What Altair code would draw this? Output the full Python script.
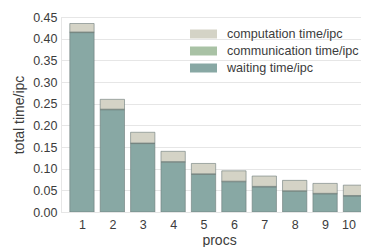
import altair as alt
import pandas as pd

procs = [1, 2, 3, 4, 5, 6, 7, 8, 9, 10]
waiting = [0.414, 0.236, 0.158, 0.115, 0.087, 0.070, 0.058, 0.048, 0.042, 0.037]
communication = [0.0015, 0.0014, 0.0013, 0.0013, 0.0012, 0.0012, 0.0012, 0.0011, 0.0011, 0.0011]
computation = [0.0195, 0.0226, 0.0247, 0.0237, 0.0238, 0.0238, 0.0238, 0.0239, 0.0229, 0.0239]

series = ["computation time/ipc", "communication time/ipc", "waiting time/ipc"]
colors = ["#d4d3c6", "#a9c2a5", "#88a8a4"]
stack_rank = {"waiting time/ipc": 0, "communication time/ipc": 1, "computation time/ipc": 2}

rows = []
for i, p in enumerate(procs):
    for name, vals in (("waiting time/ipc", waiting),
                       ("communication time/ipc", communication),
                       ("computation time/ipc", computation)):
        rows.append({"procs": p, "series": name, "value": vals[i], "rank": stack_rank[name]})
df = pd.DataFrame(rows)

font = "Liberation Sans"

chart = alt.Chart(df).transform_calculate(
    x0="datum.procs - 0.4", x1="datum.procs + 0.4"
).mark_bar(clip=True, stroke="#6b7a78", strokeWidth=0.6).encode(
    x=alt.X("x0:Q", scale=alt.Scale(domain=[0.475, 10.017], nice=False, zero=False),
            axis=alt.Axis(values=procs, title="procs", grid=False, ticks=False, domain=False,
                          labelFontSize=12.5, labelColor="#3c3c3c", labelPadding=6,
                          labelFlush=10,
                          titleFontSize=14, titleFontWeight="normal", titleColor="#3c3c3c",
                          titlePadding=3, titleX=158, labelFont=font, titleFont=font)),
    x2="x1:Q",
    y=alt.Y("sum(value):Q", stack="zero",
            scale=alt.Scale(domain=[0, 0.45], nice=False),
            axis=alt.Axis(values=[0, 0.05, 0.1, 0.15, 0.2, 0.25, 0.3, 0.35, 0.4, 0.45],
                          format=".2f", title="total time/ipc", ticks=False,
                          domain=True, domainColor="#e6e6e6", domainWidth=1,
                          gridColor="#e6e6e6", gridWidth=1,
                          labelFontSize=12.5, labelColor="#3c3c3c", labelPadding=4,
                          titleFontSize=14, titleFontWeight="normal", titleColor="#3c3c3c",
                          titlePadding=6, labelFont=font, titleFont=font)),
    color=alt.Color("series:N", scale=alt.Scale(domain=series, range=colors),
                    legend=alt.Legend(title=None, orient="none", legendX=133.5, legendY=8,
                                      symbolType="M-1.5,-0.5H1.5V0.5H-1.5Z", symbolSize=324,
                                      symbolStrokeWidth=0, symbolOpacity=1,
                                      labelFontSize=12.6, labelColor="#3c3c3c", labelFont=font,
                                      labelOffset=14.5, rowPadding=1, padding=0)),
    order=alt.Order("rank:Q", sort="ascending"),
).properties(
    width=300, height=195,
    autosize=alt.AutoSizeParams(type="none"),
    padding={"left": 53, "top": 9, "right": 0, "bottom": 35},
).configure_view(stroke=None).configure(background="white")

chart.save("out.html", embed_options={"renderer": "svg", "actions": False})
